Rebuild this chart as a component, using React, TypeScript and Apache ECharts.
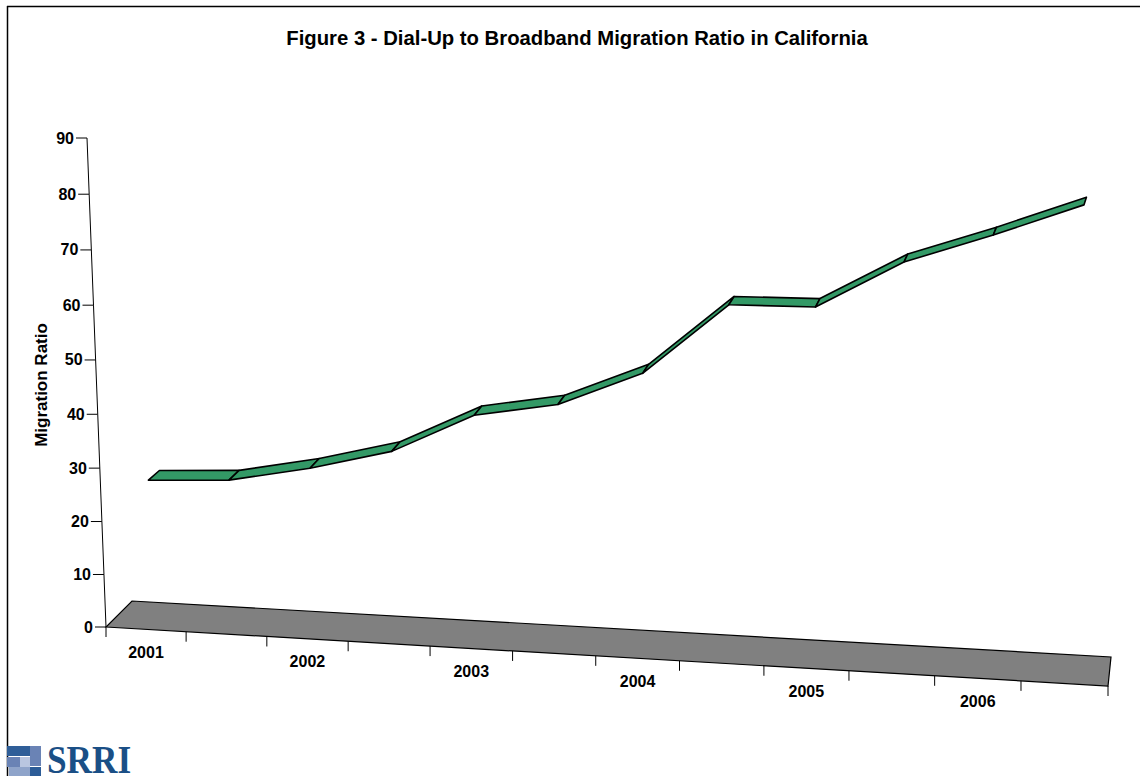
import React, { useEffect, useRef } from "react";
import * as echarts from "echarts";

const TITLE = "Figure 3 - Dial-Up to Broadband Migration Ratio in California";
const AXIS_NAME = "Migration Ratio";

// One point per half-year, centred between the axis ticks.
const halfYears = [0.5, 1.5, 2.5, 3.5, 4.5, 5.5, 6.5, 7.5, 8.5, 9.5, 10.5, 11.5];
const migrationRatio = [26.9, 27.7, 30.7, 34.6, 42, 44.7, 51.05, 64, 64.25, 72.8, 78.1, 83.9];

const yearLabels = ["2001", "2002", "2003", "2004", "2005", "2006"];
const yearPositions = [0.5, 2.5, 4.5, 6.5, 8.5, 10.5];
const xTicks = [0, 1, 2, 3, 4, 5, 6, 7, 8, 9, 10, 11, 12];
const yTicks = [0, 10, 20, 30, 40, 50, 60, 70, 80, 90];

const X_MAX = 12;
const Y_MAX = 90;
const WIDTH = 1140;
const HEIGHT = 776;

type Pt = [number, number];

// Corners of the plot's front and back walls, in order: origin, x end, far corner, y end.
const frontWall: Pt[] = [[106, 627], [1108, 686], [1129, 176], [87, 138]];
const backWall: Pt[] = [[132, 601], [1111, 657], [1134, 159], [113, 125]];
const RIBBON_NEAR = 0.3;
const RIBBON_FAR = 0.74;

const FONT = '"Liberation Sans", Arial, sans-serif';

// Projective map from the unit square onto a quadrilateral.
function quadMap(q: Pt[]) {
  const [[x0, y0], [x1, y1], [x2, y2], [x3, y3]] = q;
  const dx1 = x1 - x2, dx2 = x3 - x2, sx = x0 - x1 + x2 - x3;
  const dy1 = y1 - y2, dy2 = y3 - y2, sy = y0 - y1 + y2 - y3;
  const den = dx1 * dy2 - dx2 * dy1;
  const g = (sx * dy2 - dx2 * sy) / den;
  const h = (dx1 * sy - sx * dy1) / den;
  const a = x1 - x0 + g * x1, b = x3 - x0 + h * x3;
  const d = y1 - y0 + g * y1, e = y3 - y0 + h * y3;
  return (u: number, v: number): Pt => {
    const w = g * u + h * v + 1;
    return [(a * u + b * v + x0) / w, (d * u + e * v + y0) / w];
  };
}

const front = quadMap(frontWall);
const back = quadMap(backWall);

// Takes the flat grid's pixel position and places it in the perspective box at depth z.
function project(api: any, x: number, y: number, z: number): Pt {
  const [px, py] = api.coord([x, y]);
  const u = px / WIDTH;
  const v = 1 - py / HEIGHT;
  const f = front(u, v);
  const b = back(u, v);
  return [f[0] + (b[0] - f[0]) * z, f[1] + (b[1] - f[1]) * z];
}

const axisStroke = { stroke: "#000", lineWidth: 1 };

function renderFloor(_: any, api: any) {
  return {
    type: "polygon",
    shape: {
      points: [
        project(api, 0, 0, 0),
        project(api, X_MAX, 0, 0),
        project(api, X_MAX, 0, 1),
        project(api, 0, 0, 1),
      ],
    },
    style: { fill: "#808080", stroke: "#000", lineWidth: 1.2 },
  };
}

function renderYAxis(params: any, api: any) {
  const value = api.value(1);
  const [x, y] = project(api, 0, value, 0);
  const children: any[] = [
    { type: "line", shape: { x1: x - 11, y1: y, x2: x, y2: y }, style: axisStroke },
    {
      type: "text",
      style: {
        text: String(value),
        x: x - 13,
        y,
        align: "right",
        verticalAlign: "middle",
        fill: "#000",
        font: `bold 16px ${FONT}`,
      },
    },
  ];
  if (params.dataIndex < yTicks.length - 1) {
    const [nx, ny] = project(api, 0, yTicks[params.dataIndex + 1], 0);
    children.push({ type: "line", shape: { x1: x, y1: y, x2: nx, y2: ny }, style: axisStroke });
  }
  return { type: "group", children };
}

function renderXTick(_: any, api: any) {
  const [x, y] = project(api, api.value(0), 0, 0);
  return { type: "line", shape: { x1: x, y1: y, x2: x, y2: y + 10 }, style: axisStroke };
}

function renderYearLabel(params: any, api: any) {
  const [x, y] = project(api, api.value(0), 0, 0);
  return {
    type: "text",
    style: {
      text: yearLabels[params.dataIndex],
      x,
      y: y + 23,
      align: "center",
      verticalAlign: "middle",
      fill: "#000",
      font: `bold 16px ${FONT}`,
    },
  };
}

function renderRibbon(params: any, api: any) {
  const i = params.dataIndex;
  if (i >= halfYears.length - 1) return null;
  const x1 = api.value(0, i), y1 = api.value(1, i);
  const x2 = api.value(0, i + 1), y2 = api.value(1, i + 1);
  return {
    type: "polygon",
    shape: {
      points: [
        project(api, x1, y1, RIBBON_NEAR),
        project(api, x2, y2, RIBBON_NEAR),
        project(api, x2, y2, RIBBON_FAR),
        project(api, x1, y1, RIBBON_FAR),
      ],
    },
    style: { fill: "#339966", stroke: "#000", lineWidth: 1.6, lineJoin: "round" },
  };
}

const logoBlocks: [number, number, number, number, string][] = [
  [7, 746, 23, 10, "#2f5e98"],
  [30, 746, 11, 20, "#6a83b5"],
  [7, 757, 13, 10, "#6a83b5"],
  [20, 757, 10, 10, "#b9c6e0"],
  [9, 767, 21, 9, "#8fa4ca"],
  [30, 767, 11, 9, "#2c5c97"],
];

function buildOption() {
  const customBase = { type: "custom" as const, coordinateSystem: "cartesian2d", silent: true, clip: false };
  return {
    animation: false,
    backgroundColor: "#fff",
    title: {
      text: TITLE,
      left: 572,
      top: 23,
      textAlign: "center",
      textStyle: { fontFamily: FONT, fontWeight: "bold", fontSize: 20.3, color: "#000" },
    },
    grid: { left: 0, right: 0, top: 0, bottom: 0 },
    xAxis: { type: "value", min: 0, max: X_MAX, show: false },
    yAxis: { type: "value", min: 0, max: Y_MAX, show: false },
    series: [
      { ...customBase, name: "Floor", data: [[0, 0]], encode: { x: 0, y: 1 }, renderItem: renderFloor, z: 1 },
      { ...customBase, name: "Y axis", data: yTicks.map((v) => [0, v]), encode: { x: 0, y: 1 }, renderItem: renderYAxis, z: 2 },
      { ...customBase, name: "X ticks", data: xTicks.map((x) => [x, 0]), encode: { x: 0, y: 1 }, renderItem: renderXTick, z: 2 },
      { ...customBase, name: "Years", data: yearPositions.map((x) => [x, 0]), encode: { x: 0, y: 1 }, renderItem: renderYearLabel, z: 2 },
      {
        ...customBase,
        name: "Migration Ratio",
        data: halfYears.map((x, i) => [x, migrationRatio[i]]),
        encode: { x: 0, y: 1 },
        renderItem: renderRibbon,
        z: 3,
      },
    ],
    graphic: [
      { type: "line", shape: { x1: 7, y1: 6.5, x2: WIDTH, y2: 6.5 }, style: { stroke: "#000", lineWidth: 1.5 } },
      { type: "line", shape: { x1: 7.5, y1: 6, x2: 7.5, y2: HEIGHT }, style: { stroke: "#000", lineWidth: 1.5 } },
      {
        type: "text",
        rotation: Math.PI / 2,
        x: 41,
        y: 385,
        style: {
          text: AXIS_NAME,
          align: "center",
          verticalAlign: "middle",
          fill: "#000",
          font: `bold 17px ${FONT}`,
        },
      },
      ...logoBlocks.map(([x, y, width, height, fill]) => ({
        type: "rect",
        shape: { x, y, width, height },
        style: { fill },
      })),
      {
        type: "text",
        x: 47,
        y: 780,
        scaleX: 0.86,
        style: {
          text: "SRRI",
          align: "left",
          verticalAlign: "bottom",
          fill: "#1a4f86",
          font: 'bold 41px "Liberation Serif", serif',
        },
      },
    ],
  };
}

export default function App() {
  const ref = useRef<HTMLDivElement>(null);
  useEffect(() => {
    if (!ref.current) return;
    const chart = echarts.init(ref.current, undefined, { renderer: "svg" });
    chart.setOption(buildOption() as any);
    return () => chart.dispose();
  }, []);
  return (
    <div
      ref={ref}
      style={{ position: "fixed", left: 0, top: 0, width: WIDTH, height: HEIGHT, overflow: "hidden" }}
    />
  );
}
